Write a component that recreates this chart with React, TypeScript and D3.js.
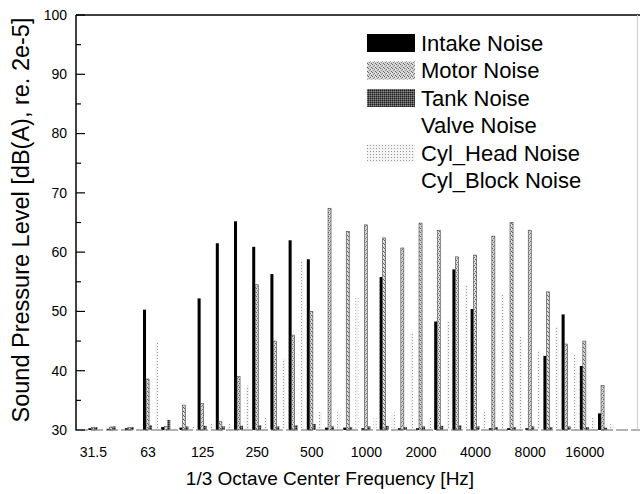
import React from "react";
import * as d3 from "d3";

const bands = ["31.5","40","50","63","80","100","125","160","200","250","315","400","500","630","800","1000","1250","1600","2000","2500","3150","4000","5000","6300","8000","10000","12500","16000","20000"];
const tickLabels = ["31.5","63","125","250","500","1000","2000","4000","8000","16000"];
const seriesNames = ["Intake Noise","Motor Noise","Tank Noise","Valve Noise","Cyl_Head Noise","Cyl_Block Noise"];

const intake = [30.3,30.2,30.3,50.3,30.5,30.4,52.2,61.5,65.2,60.9,56.3,62,58.8,30.4,30.4,30.3,55.8,30.3,30.3,48.3,57.1,50.4,30.3,30.3,30.3,42.5,49.5,40.8,32.8];
const motor = [30.4,30.5,30.4,38.6,30.6,34.2,34.5,31.4,39,54.5,45,46,50,67.4,63.5,64.6,62.4,60.7,64.9,63.7,59.2,59.5,62.7,65,63.7,53.3,44.5,45,37.5];
const tank = [30.5,30.6,30.5,30.8,31.7,30.6,30.7,30.6,30.7,30.8,30.6,30.8,31,30.6,30.5,30.6,30.7,30.5,30.6,30.7,30.8,30.6,30.5,30.5,30.6,30.5,30.6,30.5,30.4];
const valve = [30.2,30.2,30.2,30.3,30.2,30.2,30.3,30.3,30.3,30.3,30.3,30.3,30.3,30.3,30.3,30.3,30.3,30.3,30.3,30.3,30.3,30.3,30.3,30.3,30.3,30.3,30.3,30.3,30.2];
const cylHead = [30.2,30.2,30.3,44.7,30.3,30.5,31,31,37.5,32,42,58.7,33,33,52.4,32,33,46.5,32,48.5,54.5,33,52.8,45.7,43.5,47.4,42.7,32,31];
const cylBlock = [30.2,30.2,30.2,30.2,30.2,30.2,30.2,30.2,30.2,30.2,30.2,30.2,30.2,30.2,30.2,30.2,30.2,30.2,30.2,30.2,30.2,30.2,30.2,30.2,30.2,30.2,30.2,30.2,30.2];
const seriesValues = [intake, motor, tank, valve, cylHead, cylBlock];
const fills = ["#000", "url(#motorPat)", "url(#tankPat)", "#fff", "url(#headPat)", "#fff"];
const barStrokes = ["none", "#444", "none", "none", "none", "none"];

const W = 640, H = 494;
const font = "'Liberation Sans', Arial, sans-serif";

export default function App() {
  const y = d3.scaleLinear().domain([30, 100]).range([430, 15]);
  const x = d3.scaleBand<string>().domain(bands).range([88.4, 616.2]).paddingInner(0).paddingOuter(0);
  const xs = d3.scaleBand<string>().domain(seriesNames).range([0, x.bandwidth()]).padding(0);
  const majors = d3.range(30, 101, 10);
  const minors = d3.range(35, 100, 10);

  return (
    <svg width={W} height={H} style={{ position: "absolute", left: 0, top: 0, background: "#fff" }} fontFamily={font}>
      <defs>
        <pattern id="motorPat" width="4" height="4" patternUnits="userSpaceOnUse">
          <rect width="4" height="4" fill="#d4d4d4" />
          <rect x="0" y="0" width="1" height="1" fill="#666" />
          <rect x="2" y="1" width="1" height="1" fill="#777" />
          <rect x="1" y="2" width="1" height="1" fill="#888" />
          <rect x="3" y="3" width="1" height="1" fill="#666" />
          <rect x="3" y="1" width="1" height="1" fill="#eee" />
        </pattern>
        <pattern id="tankPat" width="2" height="2" patternUnits="userSpaceOnUse">
          <rect width="2" height="2" fill="#555" />
          <rect x="0" y="0" width="1" height="1" fill="#222" />
          <rect x="1" y="1" width="1" height="1" fill="#888" />
        </pattern>
        <pattern id="headPat" width="3" height="3" patternUnits="userSpaceOnUse">
          <rect width="3" height="3" fill="#f4f4f4" />
          <rect x="1" y="1" width="1" height="1" fill="#999" />
        </pattern>
      </defs>
      <rect width={W} height={H} fill="#fff" />
      {seriesValues.map((vals, si) =>
        vals.map((v, bi) => (
          <rect key={`${si}-${bi}`}
            x={(x(bands[bi]) as number) + (xs(seriesNames[si]) as number)}
            y={y(v)}
            width={xs.bandwidth()}
            height={y(30) - y(v)}
            fill={fills[si]}
            stroke={barStrokes[si]}
            strokeWidth={0.6} />
        ))
      )}
      <line x1={76} x2={640} y1={15} y2={15} stroke="#000" strokeWidth={1.5} />
      <line x1={76} x2={76} y1={15} y2={430.5} stroke="#000" strokeWidth={1.5} />
      <line x1={76} x2={640} y1={430} y2={430} stroke="#666" strokeWidth={1} strokeDasharray="12 3" />
      <line x1={637.5} x2={637.5} y1={15} y2={430} stroke="#ccc" strokeWidth={1} />
      {majors.map(t => (
        <g key={t}>
          <line x1={76} x2={85} y1={y(t)} y2={y(t)} stroke="#000" strokeWidth={1.2} />
          <text x={67} y={y(t)} dy="0.35em" textAnchor="end" fontSize={14}>{t}</text>
        </g>
      ))}
      {minors.map(t => (
        <line key={t} x1={76} x2={81} y1={y(t)} y2={y(t)} stroke="#000" strokeWidth={1.2} />
      ))}
      {tickLabels.map(l => (
        <text key={l} x={(x(l) as number) + 5} y={457} textAnchor="middle" fontSize={14}>{l}</text>
      ))}
      <text x={330} y={485} textAnchor="middle" fontSize={19}>1/3 Octave Center Frequency [Hz]</text>
      <text transform={`translate(29,220) rotate(-90)`} textAnchor="middle" fontSize={23.5}>Sound Pressure Level [dB(A), re. 2e-5]</text>
      {seriesNames.map((n, i) => {
        const cy = 43 + i * 27.5;
        return (
          <g key={n}>
            <rect x={367} y={cy - 9} width={48} height={18} fill={fills[i]} />
            <text x={421} y={cy} dy="0.35em" fontSize={22}>{n}</text>
          </g>
        );
      })}
    </svg>
  );
}
